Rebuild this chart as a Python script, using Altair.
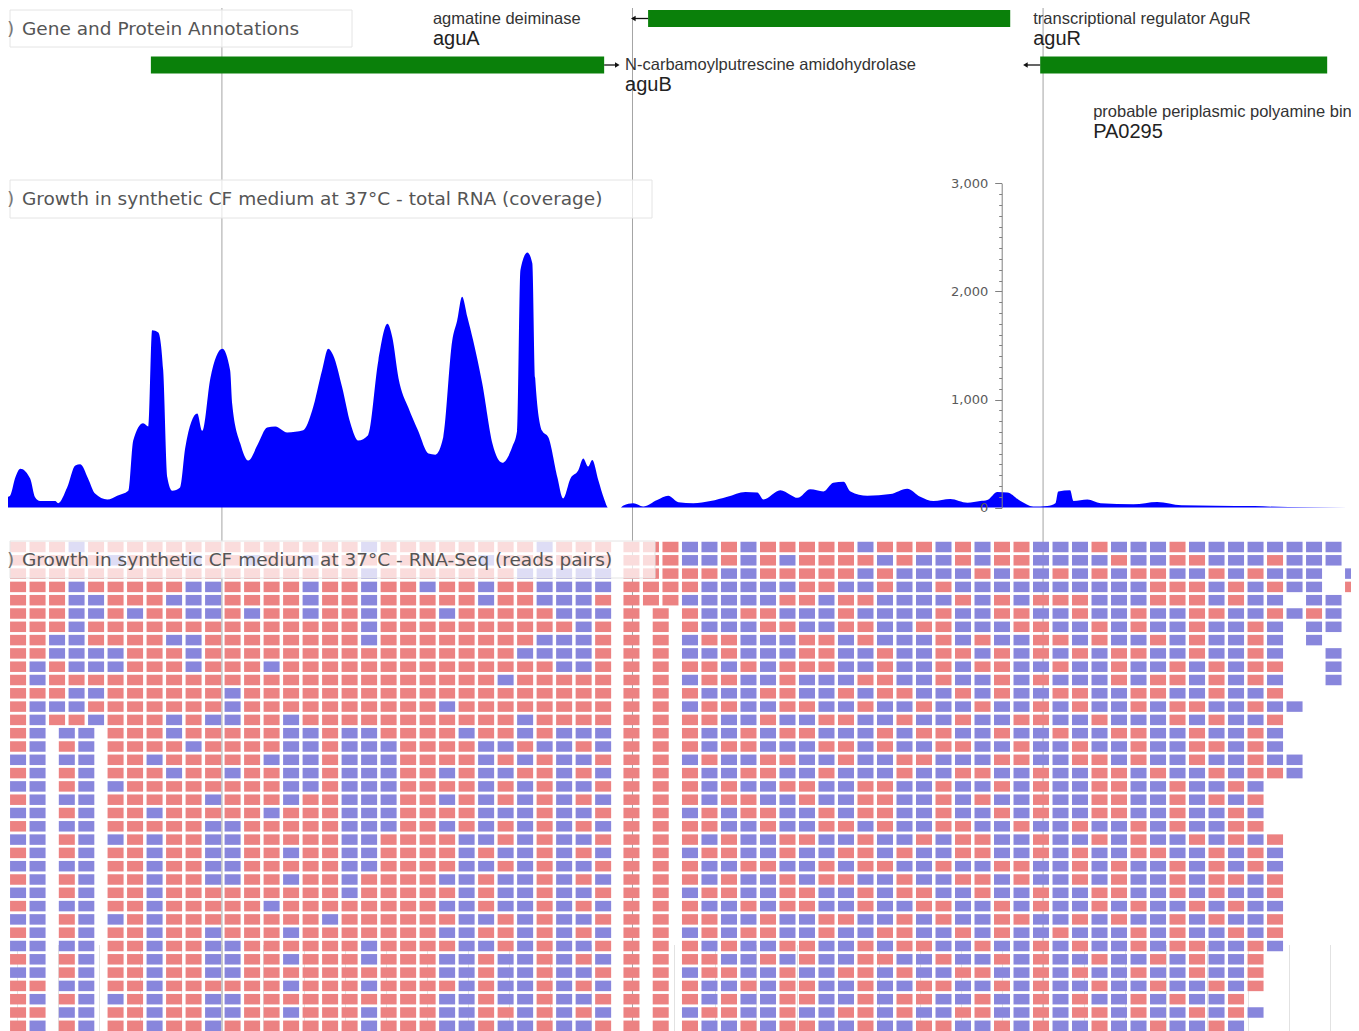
import altair as alt
import pandas as pd

# ---------------- data ----------------
X_DOMAIN = [327479, 330750]          # genome window (bp)
minor_grid = list(range(327500, 330800, 100))
major_grid = [328000, 329000, 330000]

# gene features
gene_start = [329038, 327827, 329993]
gene_end = [329920, 328931, 330692]
gene_row = [1, 2, 2]
arrow_base = [329038, 328931, 329993]
arrow_tip = [329002, 328963, 329957]
arrow_dir = ["left", "right", "left"]

label_pos = [328514, 328982, 329976, 330122]
label_row = [1, 2, 1, 3]
label_desc = ["agmatine deiminase", "N-carbamoylputrescine amidohydrolase",
              "transcriptional regulator AguR", "probable periplasmic polyamine binding protein"]
label_name = ["aguA", "aguB", "aguR", "PA0295"]

# coverage profile
cov_pos = [327479, 327484, 327497, 327509, 327533, 327545, 327557, 327594, 327601, 327623,
           327643, 327655, 327674, 327691, 327721, 327745, 327772, 327784, 327808, 327821,
           327830, 327845, 327857, 327867, 327879, 327898, 327911, 327940, 327952, 327972,
           328001, 328020, 328025, 328045, 328064, 328088, 328110, 328130, 328159, 328198,
           328220, 328244, 328259, 328271, 328293, 328313, 328332, 328356, 328381, 328403,
           328415, 328430, 328454, 328478, 328503, 328520, 328539, 328561, 328573, 328585,
           328598, 328612, 328634, 328659, 328683, 328707, 328719, 328727, 328744, 328756,
           328763, 328780, 328795, 328817, 328831, 328849, 328868, 328880, 328892, 328902,
           328917, 328931, 328941, 328970, 328978, 329002, 329026, 329060, 329087, 329112,
           329148, 329190, 329231, 329275, 329304, 329319, 329360, 329384, 329402, 329433,
           329465, 329489, 329514, 329531, 329572, 329628, 329669, 329701, 329733, 329774,
           329816, 329847, 329864, 329889, 329913, 329945, 329976, 330010, 330030, 330037,
           330066, 330074, 330108, 330140, 330220, 330278, 330337, 330420, 330515, 330597,
           330743]
cov_val = [100, 110, 280, 360, 270, 95, 60, 60, 40, 185,
           390, 400, 270, 130, 75, 110, 155, 620, 780, 750,
           1640, 1620, 1270, 280, 155, 185, 560, 870, 710, 1200,
           1470, 1270, 960, 590, 435, 590, 740, 750, 695, 715,
           900, 1270, 1470, 1410, 1110, 780, 620, 670, 1360, 1700,
           1575, 1200, 925, 710, 500, 490, 650, 1545, 1730, 1950,
           1760, 1545, 1150, 590, 415, 560, 710, 2195, 2360, 2260,
           1200, 710, 650, 280, 85, 270, 345, 455, 380, 440,
           250, 80, 0, 0, 20, 40, 10, 70, 110, 50,
           40, 60, 100, 145, 140, 75, 160, 120, 90, 170,
           150, 230, 240, 150, 110, 125, 175, 100, 60, 80,
           45, 60, 70, 145, 140, 60, 10, 15, 40, 150,
           160, 60, 75, 40, 30, 52, 22, 18, 14, 5,
           2]

# read pairs: r = forward (red), b = reverse (blue), "." empty slot, "-" half-slot gap
reads_left = [
    "rrrbrrrrrrrrrrrrrrbrrrrrrrrbrrr",
    "rrrrrbrrrbrrbrrbrrrrrrrrbrrrrrr",
    "rrrrrrrrrrrrrrrrrrbrrrrrrrbbbbb",
    "rrrbrrrrrbbrrrrbrrbrrbrrbrrbbbb",
    "rrrbbrrrbbbrrrrbrrbrrrrrbrrbbbr",
    "rrrbbrbrrbbrbrrbrrbrrrbrrrrrbbb",
    "rrrbrrrrrrrrrrrrrrbrrrrrrrrrrbr",
    "rrbbrrrrbbrrrrrrrrbrrrrrrrrbbbr",
    "rrbbbbrrrbrrrrrrrrrrrrrrrrbbbbr",
    "rbrbbbrrrbrrrbrrrrrrrrrrrrrrbbr",
    "rbrrrrrrrrrrrrrrrrrrrrrrrbrrrrr",
    "rrrbbrrrrrrbrrrrrrrrrrrrrrrrrrr",
    "rbbbrrrrrrrbrrrrrrrrrrbrrrrrrrr",
    "rbrrbrrrbrbbrrbrrrrrrrrrrrbrrrr",
    "rb-bb-rrrbrrrrrbbrbbrrrrbrrbrbbb",
    "rb-rb-rrrrbrrrrbbrbbbrrrrbbrbbrb",
    "bb-bb-rrbrrrrrbbbrbbbrrrrbrbrbbr",
    "rb-rb-rrrbrrbrrbbrbbbrrbrbbrrbrb",
    "bb-rb-brrrrrrrrbbrbbbrrrrbrbrbbr",
    "rb-bb-rrrrrbrrrbrrbbbrrbrbrbrbrb",
    "bb-rb-rrbrrrrrbrrrbbbrrrrbbbrbbr",
    "rb-bb-rrrrrbbrrrrrbbbrrbrbrbrbrb",
    "bb-rb-brbrrbbrrrrrbbrrrrbbrbrbbr",
    "rb-rb-rrbrrbbrrbrrbbrrrrbrbbrbrb",
    "bb-bb-rrbrrbbrrrrrbbrrrrbbrbrbbr",
    "rb-rb-rrbrrbbrrbrrbrrrrbbrbbrbrb",
    "bb-rb-rrbrrrrrrrrrbrrrrrbrbbrbbr",
    "rb-bb-rrbrrrrrbrrrrrrrrbbrbbrbrb",
    "bb-rb-brbrrrrrrrrbrrrrrrbbrbrbbr",
    "rb-rb-rrbrrbrrrbrrrrrrrbbrrbrbrb",
    "bb-bb-rrbrrbbrrrrrrbrrrrbbrbrbbr",
    "rb-rb-rrbrrbbrrbrrrbrrrbbrbbrbrb",
    "bb-rb-rrbrrbbrrrrrrrrrrbbrbbrbbr",
    "rr-bb-rrbrrrrrrbrrrbrrrrbrbbrbrb",
    "rb-rb-brbrrbbrrrrrrrrrrbbrbbrbbr",
    "rr-bb-rrbrrbbrrbrrrbrrrbbrrbrbrb",
    "rb-rb-rrbrrbrrrrrrrbrrrbbrbbrbbr",
]
reads_right = [
    "rrrbbrbrrrrrbrrrbrbrrbbbrbbbrbbbbbbbb",
    "rrrbbrbrbrrrrbrbbrbrrbbbbrbbrrbbbrbbb",
    "rrrrrbbrrrrrbrbbbbrbrbrbrbrrbbrbrbbb.b",
    "rrrrbbbbbrrbbrbbrbbbbbbbbbbrrrbrbrbb.r",
    "rrrbbbbbrrbrrbbbbrbrbrrrbbbrrrbrbb.bb",
    "r-r-rbbrrbbbrbbbbrbbrrbbrbbrbbrrbbrbrb",
    "r-r-rbbbrrbbrrbbrrbbbrrbbrbrbbrbbrb.bb",
    "r-r-brrbbbrrbrbbbrbrbbrrbrbbrbrbbrb.b",
    "r-r-bbrbbbrrbbrbbrrbrbrbrbrrbbrbbrb..b",
    "r-r-rrbrbrrrbbrbbrbrrbbrbbrbbrbrbrr..b",
    "r-r-brrbbrbbbrrbbrbbrbrbbbrbrrbrbrb..b",
    "r-r-rbbbrrbbrbrrbbrbrbbrrbbrrbbrbbr",
    "r-r-brrbbrrbbrbbrbbrbbrbrbbrbrrbbrbb",
    "r-r-rrbbrbbrrbbrbbrbbrrbbrbbbrbrbbr",
    "r-r-rbbrbrrbbbrbrrbbrbbrbbrrbbrbbrb",
    "r-r-rbrrbbbrrbrbbrrbbrbbrbbrbbrrbrb",
    "r-r-brbbrrbbrbbrrbbbrrbbrrbrbbrbbrbb",
    "r-r-rbbrrbbrbbbrbbrrbbrbbrrbrbbrbrrb",
    "r-r-rbrbbrrbbrrbbrbbrbrbbrrbbrbbrb",
    "r-r-rbrrbbrbbrrbbrbrbbrbbrrbbrbrbr",
    "r-r-brbrrbbrbrrbbrbbrbrbbrrbbrbbrb",
    "r-r-rrbbrbbrrbrbbrrbbrbbrbbrbrbbrr",
    "r-r-rbrbbrrbbrbbrbrrbbrbbrbrbbrbrbr",
    "r-r-brrbbrbbrrbrbbrrbbrbrbbrrbbrbrb",
    "r-r-rbbrrbbrbrrbbrbbrrbbrbrbbrbrbrb",
    "r-r-rbrbbrbrrbbrbbrrbrbbrbrbbrbrrbr",
    "r-r-brrbbrrbbrbrrbbrbbrbbrrbbrbrbbr",
    "r-r-rbbrbrrbbrbbrrbbrbrbbrbrbbrbrbb",
    "r-r-rrbbrbbrrbbrbrbbrrbbrbrbbrbrbbr",
    "r-r-brbrrbbrbbrrbbrbrbbrbbbrbrbbrbr",
    "r-r-rbrbbrrbbrbrrbbrbbrbrbbrbrrbbrb",
    "r-r-rrbbrbrbbrrbbrbbrbrbbrbbrbrbbr",
    "r-r-brrbbrbbrrbrbbrrbbrbrbbrbbrbbr",
    "r-r-rbbrbrrbbrbbrrbbrbrbbrbbrbbrbr",
    "r-r-rbrbbrrbbrbrrbbrbbrbrbbrbrbbr",
    "r-r-brrbbrbbrrbrbbrrbbrbrrbrbbrbrb",
    "r-r-rbbrbrrbbrbbrrbbrbrbbrbbrbbrb",
]

LEFT_START, RIGHT_START = 327484, 328978   # first read slot of each block (bp)
READ_PITCH, READ_LEN = 47.5, 39            # slot pitch and read-pair length (bp)

# ---------------- tables ----------------
genes = pd.DataFrame({"start": gene_start, "end": gene_end, "row": gene_row})
arrows = pd.DataFrame({"base": arrow_base, "tip": arrow_tip, "row": gene_row, "dir": arrow_dir})
labels = pd.DataFrame({"pos": label_pos, "row": label_row, "desc": label_desc, "name": label_name})
cov = pd.DataFrame({"pos": cov_pos, "val": cov_val})
majors = pd.DataFrame({"pos": major_grid})

recs = []
for block, start in ((reads_left, LEFT_START), (reads_right, RIGHT_START)):
    for i, s in enumerate(block):
        p = start
        for ch in s:
            if ch in "rb":
                recs.append({"row": i, "start": p, "end": p + READ_LEN, "strand": ch})
                p += READ_PITCH
            elif ch == ".":
                p += READ_PITCH
            elif ch == "-":
                p += READ_PITCH / 2
reads = pd.DataFrame(recs)

# ---------------- scales ----------------
XS = alt.Scale(domain=X_DOMAIN, nice=False, zero=False)
XAX = alt.Axis(values=minor_grid, grid=True, gridColor="#e2e2e2", gridWidth=1,
               labels=False, ticks=False, domain=False, title=None)
ANN_S = alt.Scale(domain=[1, 3], range=[10.5, 103.5], nice=False, zero=False)
COV_S = alt.Scale(domain=[0, 3000], range=[499.6, 175.3], nice=False, zero=False)
READ_S = alt.Scale(domain=[0, 36], range=[539.0, 1017.8], nice=False, zero=False)

def X(field):
    return alt.X(field, type="quantitative", scale=XS, axis=XAX)

def X2(field):
    return alt.X2(field)

grid_major = alt.Chart(majors).mark_rule(color="#a4a4a4", strokeWidth=1).encode(x=X("pos"))

bars = alt.Chart(genes).mark_rule(color="#0a800a", strokeWidth=17, strokeCap="butt").encode(
    x=X("start"), x2=X2("end"), y=alt.Y("row:Q", scale=ANN_S, axis=None))

arrow_lines = alt.Chart(arrows).mark_rule(color="#111", strokeWidth=1.3).encode(
    x=X("base"), x2=X2("tip"), y=alt.Y("row:Q", scale=ANN_S, axis=None))
arrow_heads = alt.Chart(arrows).mark_point(filled=True, color="#111", size=28, opacity=1).encode(
    x=X("tip"), y=alt.Y("row:Q", scale=ANN_S, axis=None),
    shape=alt.Shape("dir:N", scale=alt.Scale(domain=["left", "right"],
                                             range=["triangle-left", "triangle-right"]), legend=None))

desc_text = alt.Chart(labels).mark_text(align="left", baseline="middle", font="Liberation Sans",
                                         fontSize=16.5, color="#333").encode(
    x=X("pos"), y=alt.Y("row:Q", scale=ANN_S, axis=None), text="desc:N")
name_text = alt.Chart(labels).mark_text(align="left", baseline="middle", font="Liberation Sans",
                                         fontSize=20, color="#222", dy=20).encode(
    x=X("pos"), y=alt.Y("row:Q", scale=ANN_S, axis=None), text="name:N")

cov_axis = alt.Axis(values=list(range(0, 3001, 100)), orient="left", offset=-993.7,
                    labelExpr="datum.value % 1000 === 0 ? format(datum.value, ',') : ''",
                    tickSize={"condition": {"test": "datum.value % 1000 === 0", "value": 7}, "value": 3},
                    grid=False, domainColor="#808080", tickColor="#808080", labelColor="#5a5a5a",
                    labelFont="DejaVu Sans", labelFontSize=13, labelPadding=7, title=None, zindex=1)
coverage = alt.Chart(cov).mark_area(color="#0000ff", opacity=1, interpolate="monotone").encode(
    x=X("pos"), y=alt.Y("val:Q", scale=COV_S, axis=cov_axis))

read_marks = alt.Chart(reads).mark_rule(strokeWidth=10.5, strokeCap="butt", clip=True).encode(
    x=X("start"), x2=X2("end"), y=alt.Y("row:Q", scale=READ_S, axis=None),
    color=alt.Color("strand:N", scale=alt.Scale(domain=["r", "b"], range=["#ec8282", "#8886dc"]),
                    legend=None))

one = pd.DataFrame({"k": [0]})

def title_box(x1, x2, y1, y2, text):
    box = alt.Chart(one).mark_rect(fill="white", fillOpacity=0.72, stroke="#e4e4e4", strokeWidth=1).encode(
        x=alt.value(x1), x2=alt.value(x2), y=alt.value(y1), y2=alt.value(y2))
    txt = alt.Chart(one).mark_text(align="left", baseline="middle", font="DejaVu Sans",
                                   fontSize=18.5, color="#555").encode(
        x=alt.value(14), y=alt.value((y1 + y2) / 2), text=alt.value(text))
    brk = alt.Chart(one).mark_text(align="left", baseline="middle", font="DejaVu Sans",
                                   fontSize=18.5, color="#777").encode(
        x=alt.value(-1), y=alt.value((y1 + y2) / 2), text=alt.value(")"))
    return [box, txt, brk]

titles = (title_box(2, 344, 2, 39, "Gene and Protein Annotations")
          + title_box(2, 644, 172, 210, "Growth in synthetic CF medium at 37°C - total RNA (coverage)")
          + title_box(2, 647, 533, 570, "Growth in synthetic CF medium at 37°C - RNA-Seq (reads pairs)"))

chart = alt.layer(
    grid_major, bars, arrow_lines, arrow_heads, desc_text, name_text, coverage, read_marks, *titles
).resolve_scale(y="independent", shape="independent", color="independent").properties(
    width=1343, height=1040, autosize=alt.AutoSizeParams(type="none"), padding=0
).configure_view(stroke=None)

chart.save("out.html", embed_options={"renderer": "svg", "actions": False})
